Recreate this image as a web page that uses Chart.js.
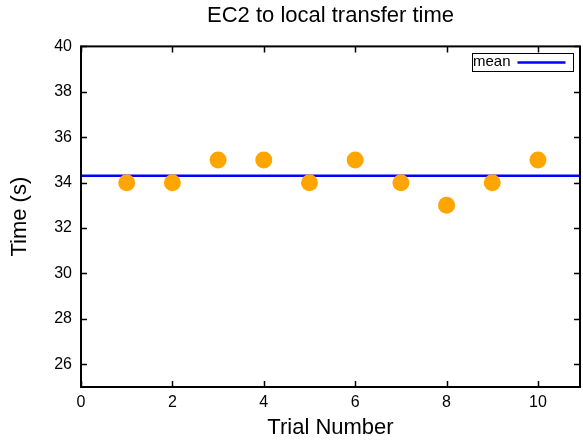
<!DOCTYPE html>
<html>
<head>
<meta charset="utf-8">
<script src="https://cdn.jsdelivr.net/npm/chart.js@4"></script>
<style>
  html, body { margin: 0; padding: 0; background: #fff; }
  #wrap { width: 583px; height: 442px; }
</style>
</head>
<body>
<div id="wrap"><canvas id="chart" width="583" height="442"></canvas></div>
<script>
// data
const trials = [1, 2, 3, 4, 5, 6, 7, 8, 9, 10];
const times = [34, 34, 35, 35, 34, 35, 34, 33, 34, 35];
const xTicks = [0, 2, 4, 6, 8, 10];
const yTicks = [26, 28, 30, 32, 34, 36, 38, 40];
const xMin = 0, xMax = 10.92;
const yMin = 25, yMax = 40;

const meanTime = times.reduce((a, b) => a + b, 0) / times.length;

const FONT = "'Liberation Sans', Arial, sans-serif";

// gnuplot-like frame with inward tick marks + boxed legend
const framePlugin = {
  id: 'frame',
  afterDatasetsDraw(chart) {
    const { ctx, chartArea: a, scales: { x, y } } = chart;
    ctx.save();
    ctx.strokeStyle = '#000';
    ctx.lineWidth = 2;
    ctx.strokeRect(a.left, a.top, a.right - a.left, a.bottom - a.top);
    ctx.lineWidth = 1.5;
    ctx.beginPath();
    xTicks.forEach(v => {
      const px = Math.round(x.getPixelForValue(v)) + 0.5;
      ctx.moveTo(px, a.bottom); ctx.lineTo(px, a.bottom - 6);
      ctx.moveTo(px, a.top); ctx.lineTo(px, a.top + 6);
    });
    yTicks.forEach(v => {
      const py = Math.round(y.getPixelForValue(v)) + 0.5;
      ctx.moveTo(a.left, py); ctx.lineTo(a.left + 6, py);
      ctx.moveTo(a.right, py); ctx.lineTo(a.right - 6, py);
    });
    ctx.stroke();

    // legend box
    const ds = chart.data.datasets[1];
    const bx = 472.5, by = 53.5, bw = 101, bh = 18;
    ctx.fillStyle = '#fff';
    ctx.fillRect(bx, by, bw, bh);
    ctx.lineWidth = 1;
    ctx.strokeStyle = '#000';
    ctx.strokeRect(bx, by, bw, bh);
    ctx.fillStyle = '#000';
    ctx.font = '15px ' + FONT;
    ctx.textBaseline = 'middle';
    ctx.textAlign = 'left';
    ctx.fillText(ds.label, bx + 0.5, by + bh / 2 - 1);
    ctx.strokeStyle = ds.borderColor;
    ctx.lineWidth = 2.5;
    ctx.beginPath();
    ctx.moveTo(bx + 45, by + bh / 2);
    ctx.lineTo(bx + 93, by + bh / 2);
    ctx.stroke();
    ctx.restore();
  }
};

new Chart(document.getElementById('chart'), {
  type: 'scatter',
  data: {
    datasets: [
      {
        label: 'time',
        data: trials.map((t, i) => ({ x: t, y: times[i] })),
        backgroundColor: '#ffa500',
        borderWidth: 0,
        pointRadius: 8.5,
        pointHoverRadius: 8.5,
        order: 1
      },
      {
        label: 'mean',
        type: 'line',
        data: [{ x: xMin, y: meanTime }, { x: xMax, y: meanTime }],
        borderColor: '#0000ff',
        borderWidth: 2.5,
        pointRadius: 0,
        fill: false,
        order: 2
      }
    ]
  },
  options: {
    responsive: false,
    animation: false,
    layout: { autoPadding: false, padding: { left: 0, right: 3, top: 0, bottom: 0 } },
    plugins: {
      legend: { display: false },
      tooltip: { enabled: false },
      title: {
        display: true,
        fullSize: false,
        text: 'EC2 to local transfer time',
        color: '#000',
        font: { family: FONT, size: 22, weight: 'normal', lineHeight: 1.2 },
        padding: { top: 3, bottom: 17 }
      }
    },
    scales: {
      x: {
        type: 'linear',
        min: xMin,
        max: xMax,
        afterBuildTicks: s => { s.ticks = xTicks.map(v => ({ value: v })); },
        afterFit: s => { s.height = 55; s.paddingLeft = 0; s.paddingRight = 0; },
        grid: { display: false, drawTicks: false },
        border: { display: false },
        ticks: {
          color: '#000',
          padding: 6,
          maxRotation: 0,
          font: { family: FONT, size: 16 }
        },
        title: {
          display: true,
          text: 'Trial Number',
          color: '#000',
          font: { family: FONT, size: 22, lineHeight: 1.2 },
          padding: { top: 0, bottom: 1 }
        }
      },
      y: {
        type: 'linear',
        min: yMin,
        max: yMax,
        afterBuildTicks: s => { s.ticks = yTicks.map(v => ({ value: v })); },
        afterFit: s => { s.width = 81; s.paddingTop = 0; s.paddingBottom = 0; },
        grid: { display: false, drawTicks: false },
        border: { display: false },
        ticks: {
          color: '#000',
          padding: 9,
          font: { family: FONT, size: 16 }
        },
        title: {
          display: true,
          text: 'Time (s)',
          color: '#000',
          font: { family: FONT, size: 22, lineHeight: 1.2 },
          padding: { top: 7, bottom: 0 }
        }
      }
    }
  },
  plugins: [framePlugin]
});
</script>
</body>
</html>
